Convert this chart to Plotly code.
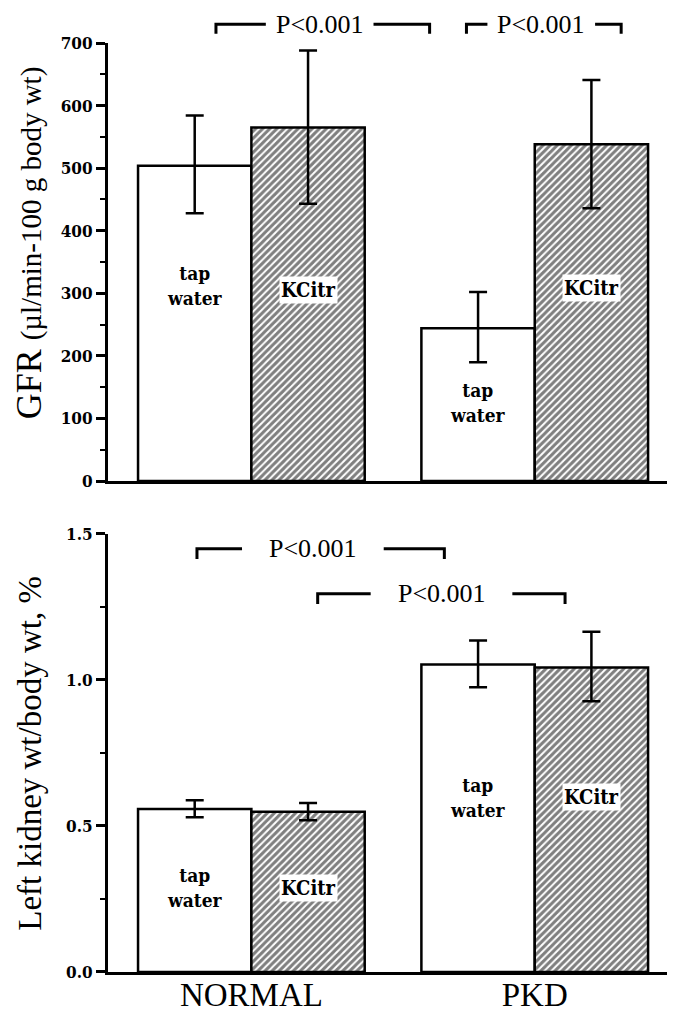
import plotly.graph_objects as go
from plotly.subplots import make_subplots

# ---------------- data ----------------
groups = ["NORMAL", "PKD"]
group_pos = [0, 1]
treatments = ["tap water", "KCitr"]

gfr_tap = [504, 244]
gfr_tap_hi = [80, 58]
gfr_tap_lo = [76, 54]
gfr_kcitr = [565, 538]
gfr_kcitr_hi = [123, 103]
gfr_kcitr_lo = [122, 102]

kid_tap = [0.558, 1.053]
kid_tap_hi = [0.030, 0.082]
kid_tap_lo = [0.028, 0.078]
kid_kcitr = [0.549, 1.043]
kid_kcitr_hi = [0.030, 0.122]
kid_kcitr_lo = [0.029, 0.116]

gfr_ticks = [0, 100, 200, 300, 400, 500, 600, 700]
kid_ticks = [0.0, 0.5, 1.0, 1.5]
kid_tick_labels = ["0.0", "0.5", "1.0", "1.5"]

# bar label positions (data units)
gfr_tap_label_y = [312, 125]
gfr_kcitr_label_y = [305, 308]
kid_tap_label_y = [0.288, 0.596]
kid_kcitr_label_y = [0.288, 0.600]

# significance brackets: (x_left, x_right, y, text)
gfr_brackets = [(-0.125, 0.629, 1.043, "P<0.001"), (0.759, 1.305, 1.043, "P<0.001")]
gfr_text_x = [0.241, 1.023]
kid_brackets = [(-0.192, 0.681, 1.449, "P<0.001"), (0.234, 1.107, 1.295, "P<0.001")]
kid_text_x = [0.217, 0.671]

FONT = "Liberation Serif"
BFONT = "DejaVu Serif Condensed, DejaVu Serif"
BAR_OFF = 0.2

fig = make_subplots(rows=2, cols=1, vertical_spacing=0.057)

def add_bars(row, tap, tap_hi, tap_lo, kc, kc_hi, kc_lo):
    fig.add_trace(go.Bar(
        x=group_pos, y=tap, name=treatments[0],
        marker=dict(color="white", line=dict(color="black", width=2.5)),
        error_y=dict(type="data", symmetric=False, array=tap_hi, arrayminus=tap_lo,
                     color="black", thickness=2.5, width=9),
        showlegend=False), row=row, col=1)
    fig.add_trace(go.Bar(
        x=group_pos, y=kc, name=treatments[1],
        marker=dict(color="white", line=dict(color="black", width=2.5),
                    pattern=dict(shape="/", size=5, solidity=0.6,
                                 fgcolor="black", bgcolor="white", fillmode="overlay")),
        error_y=dict(type="data", symmetric=False, array=kc_hi, arrayminus=kc_lo,
                     color="black", thickness=2.5, width=9),
        showlegend=False), row=row, col=1)

add_bars(1, gfr_tap, gfr_tap_hi, gfr_tap_lo, gfr_kcitr, gfr_kcitr_hi, gfr_kcitr_lo)
add_bars(2, kid_tap, kid_tap_hi, kid_tap_lo, kid_kcitr, kid_kcitr_hi, kid_kcitr_lo)

fig.update_layout(
    width=667, height=1009,
    margin=dict(l=100, r=0, t=35, b=45),
    plot_bgcolor="white", paper_bgcolor="white",
    barmode="group", bargap=0.2, bargroupgap=0,
    font=dict(family=FONT, color="black"),
)

xcommon = dict(range=[-0.506, 1.495], showline=True, linecolor="black", linewidth=3,
               showgrid=False, zeroline=False, ticks="", automargin=False,
               tickvals=group_pos)
fig.update_xaxes(**xcommon, showticklabels=False, row=1, col=1)
fig.update_xaxes(**xcommon, ticktext=groups, showticklabels=True, ticklabelstandoff=-9,
                 tickfont=dict(family=FONT, size=33), row=2, col=1)

ycommon = dict(showline=True, linecolor="black", linewidth=3, showgrid=False,
               zeroline=False, ticks="outside", ticklen=9, tickwidth=2.5,
               tickcolor="black", automargin=False,
               tickfont=dict(family=BFONT, size=17, weight="bold"))
fig.update_yaxes(**ycommon, range=[0, 700], tickvals=gfr_ticks,
                 minor=dict(dtick=50, ticks="outside", ticklen=5, tickwidth=2, tickcolor="black"),
                 row=1, col=1)
fig.update_yaxes(**ycommon, range=[0, 1.5], tickvals=kid_ticks, ticktext=kid_tick_labels,
                 minor=dict(dtick=0.25, ticks="outside", ticklen=5, tickwidth=2, tickcolor="black"),
                 row=2, col=1)

# axis titles
fig.add_annotation(text="GFR <span style='font-size:29px'>(µl/min-100 g body wt)</span>",
                   xref="paper", yref="y domain", x=-0.139, y=0.543, textangle=-90,
                   showarrow=False, font=dict(family=FONT, size=36), xanchor="center", yanchor="middle")
fig.add_annotation(text="Left kidney wt/body wt, %",
                   xref="paper", yref="y2 domain", x=-0.138, y=0.5, textangle=-90,
                   showarrow=False, font=dict(family=FONT, size=33), xanchor="center", yanchor="middle")

# bar labels
def bar_labels(xref, yref, tap_y, kc_y):
    for i, g in enumerate(group_pos):
        fig.add_annotation(text="tap<br>water", x=g - BAR_OFF, y=tap_y[i], xref=xref, yref=yref,
                           showarrow=False, font=dict(family=BFONT, size=19, weight="bold"))
        fig.add_annotation(text="KCitr", x=g + BAR_OFF, y=kc_y[i], xref=xref, yref=yref,
                           showarrow=False, bgcolor="white", borderpad=1,
                           font=dict(family=BFONT, size=20, weight="bold"))

bar_labels("x", "y", gfr_tap_label_y, gfr_kcitr_label_y)
bar_labels("x2", "y2", kid_tap_label_y, kid_kcitr_label_y)

# significance brackets
def brackets(xref, yref, specs, text_x, drop, gap):
    for (xl, xr, yv, txt), tx in zip(specs, text_x):
        fig.add_shape(type="path", xref=xref, yref=yref,
                      path=f"M {xl},{yv - drop} L {xl},{yv} L {tx - gap},{yv}",
                      line=dict(color="black", width=3))
        fig.add_shape(type="path", xref=xref, yref=yref,
                      path=f"M {tx + gap},{yv} L {xr},{yv} L {xr},{yv - drop}",
                      line=dict(color="black", width=3))
        fig.add_annotation(text=txt, x=tx, y=yv, xref=xref, yref=yref, showarrow=False,
                           yanchor="middle", font=dict(family=FONT, size=26))

brackets("x", "y domain", gfr_brackets, gfr_text_x, 0.022, 0.19)
brackets("x2", "y2", kid_brackets, kid_text_x, 0.035, 0.25)

fig.write_html("out.html")
